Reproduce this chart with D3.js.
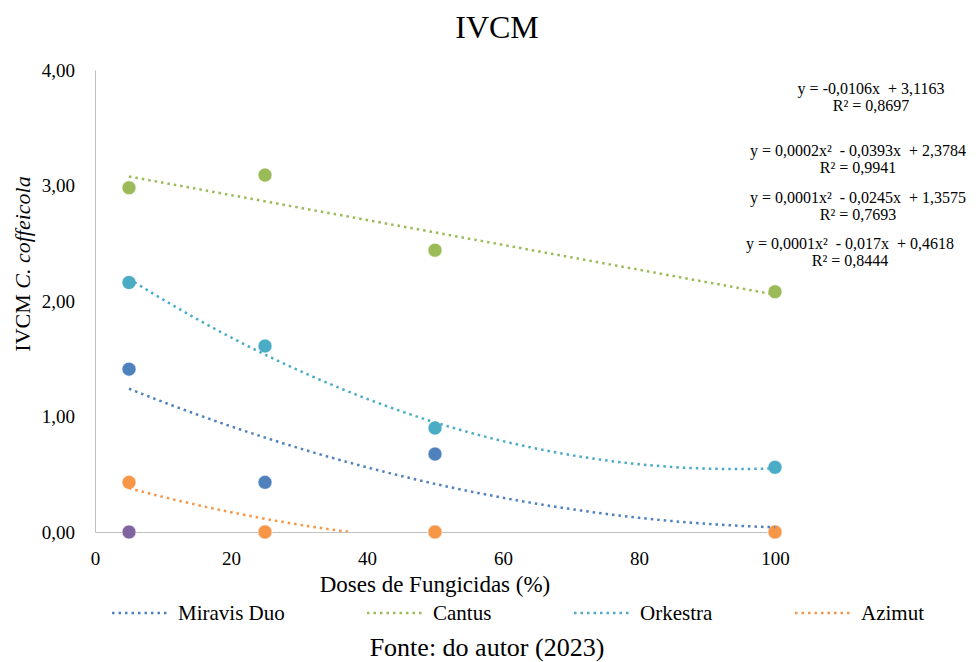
<!DOCTYPE html>
<html>
<head>
<meta charset="utf-8">
<script src="https://cdn.jsdelivr.net/npm/d3@7"></script>
<style>
  body { margin: 0; background: #fff; }
  text { font-family: "Liberation Serif", "Times New Roman", serif; }
</style>
</head>
<body>
<svg id="chart" width="979" height="662"></svg>
<script>
const doses = [5, 25, 50, 100];
const miravis = [1.41, 0.43, 0.675, 0];
const cantus = [2.98, 3.09, 2.44, 2.08];
const orkestra = [2.16, 1.61, 0.90, 0.56];
const azimut = [0.43, 0, 0, 0];
const testemunha = [0, 0, 0, 0];

const xTicks = [0, 20, 40, 60, 80, 100];
const yTicks = [0, 1, 2, 3, 4];

const equations = [
  ["y = -0,0106x  + 3,1163", "R² = 0,8697"],
  ["y = 0,0002x²  - 0,0393x  + 2,3784", "R² = 0,9941"],
  ["y = 0,0001x²  - 0,0245x  + 1,3575", "R² = 0,7693"],
  ["y = 0,0001x²  - 0,017x  + 0,4618", "R² = 0,8444"]
];

const series = [
  {name: "Miravis Duo", values: miravis, color: "#4f81bd", degree: 2},
  {name: "Cantus", values: cantus, color: "#9bbb59", degree: 1},
  {name: "Orkestra", values: orkestra, color: "#4bacc6", degree: 2},
  {name: "Azimut", values: azimut, color: "#f79646", degree: 2}
];

const serif = "Liberation Serif";
const svg = d3.select("#chart");
const margin = {left: 95, top: 70};
const width = 680, height = 462;

const x = d3.scaleLinear([0, 100], [margin.left, margin.left + width]);
const y = d3.scaleLinear([0, 4], [margin.top + height, margin.top]);

const fmt = d => d.toFixed(2).replace(".", ",");

// least squares polynomial fit (Excel trendline)
function fit(xs, ys, degree) {
  const n = degree + 1;
  const A = [];
  for (let i = 0; i < n; i++) {
    A.push([]);
    for (let j = 0; j < n; j++) A[i].push(d3.sum(xs, v => Math.pow(v, i + j)));
    A[i].push(d3.sum(xs, (v, k) => Math.pow(v, i) * ys[k]));
  }
  for (let i = 0; i < n; i++) {
    for (let k = i + 1; k < n; k++) {
      const f = A[k][i] / A[i][i];
      for (let j = i; j <= n; j++) A[k][j] -= f * A[i][j];
    }
  }
  const c = new Array(n).fill(0);
  for (let i = n - 1; i >= 0; i--) {
    let s = A[i][n];
    for (let j = i + 1; j < n; j++) s -= A[i][j] * c[j];
    c[i] = s / A[i][i];
  }
  return v => c.reduce((acc, ci, i) => acc + ci * Math.pow(v, i), 0);
}

svg.append("text")
    .attr("x", 497).attr("y", 38)
    .attr("text-anchor", "middle")
    .attr("font-family", serif)
    .attr("font-size", 32)
    .text("IVCM");

svg.append("defs").append("clipPath").attr("id", "plot")
  .append("rect")
    .attr("x", margin.left).attr("y", margin.top)
    .attr("width", width).attr("height", height);

// axes
svg.append("g")
    .attr("transform", `translate(${margin.left},0)`)
    .call(d3.axisLeft(y).tickValues(yTicks).tickFormat(fmt).tickSize(0).tickPadding(20))
    .call(g => g.attr("font-family", serif))
    .call(g => g.select(".domain").attr("stroke", "#bfbfbf"))
    .call(g => g.selectAll("text").attr("font-size", 19).attr("fill", "#000"));

svg.append("g")
    .attr("transform", `translate(0,${margin.top + height})`)
    .call(d3.axisBottom(x).tickValues(xTicks).tickSize(0).tickPadding(20))
    .call(g => g.attr("font-family", serif))
    .call(g => g.select(".domain").attr("stroke", "#bfbfbf"))
    .call(g => g.selectAll("text").attr("font-size", 19).attr("fill", "#000"));

// markers
const markers = [
  {values: miravis, color: "#4f81bd"},
  {values: cantus, color: "#9bbb59"},
  {values: orkestra, color: "#4bacc6"},
  {values: testemunha, color: "#8064a2"},
  {values: azimut, color: "#f79646"}
];
markers.forEach(m => {
  svg.append("g").selectAll("circle")
    .data(m.values)
    .join("circle")
      .attr("cx", (d, i) => x(doses[i]))
      .attr("cy", d => y(d))
      .attr("r", 7)
      .attr("fill", m.color)
      .attr("stroke", "#fff")
      .attr("stroke-opacity", 0.6)
      .attr("stroke-width", 1);
});

// trendlines
const line = d3.line().x(d => x(d[0])).y(d => y(d[1]));
series.forEach(s => {
  const f = fit(doses, s.values, s.degree);
  const pts = [];
  for (let v = 5; v <= 100.001; v += 0.5) {
    const yv = f(v);
    if (yv < 0) { if (pts.length) pts.push([v, 0]); break; }
    pts.push([v, yv]);
  }
  svg.append("path")
      .attr("clip-path", "url(#plot)")
      .attr("fill", "none")
      .attr("stroke", s.color)
      .attr("stroke-width", 2.5)
      .attr("stroke-dasharray", "2.5 4")
      .attr("d", line(pts));
});

// equations
const eqCenters = [871, 858, 858, 850];
const eqTops = [94, 156, 203, 249];
equations.forEach((eq, i) => {
  const t = svg.append("text")
      .attr("text-anchor", "middle")
      .attr("font-family", serif)
      .attr("font-size", 16)
      .attr("xml:space", "preserve");
  eq.forEach((ln, j) => {
    t.append("tspan")
      .attr("x", eqCenters[i])
      .attr("y", eqTops[i] + j * 17)
      .text(ln);
  });
});

// axis titles
const yLabel = svg.append("text")
    .attr("transform", "translate(30,264) rotate(-90)")
    .attr("text-anchor", "middle")
    .attr("font-family", serif)
    .attr("font-size", 22);
yLabel.append("tspan").text("IVCM ");
yLabel.append("tspan").attr("font-style", "italic").text("C. coffeicola");

svg.append("text")
    .attr("x", 435).attr("y", 592)
    .attr("text-anchor", "middle")
    .attr("font-family", serif)
    .attr("font-size", 23)
    .text("Doses de Fungicidas (%)");

// legend
const legendX = [112, 367, 574, 795];
const legend = svg.append("g");
series.forEach((s, i) => {
  const g = legend.append("g").attr("transform", `translate(${legendX[i]},613)`);
  g.append("line")
      .attr("x1", 0).attr("x2", 56)
      .attr("stroke", s.color)
      .attr("stroke-width", 2.5)
      .attr("stroke-dasharray", "2.5 4");
  g.append("text")
      .attr("x", 66).attr("y", 7)
      .attr("font-family", serif)
      .attr("font-size", 21)
      .text(s.name);
});

svg.append("text")
    .attr("x", 487).attr("y", 656)
    .attr("text-anchor", "middle")
    .attr("font-family", serif)
    .attr("font-size", 26)
    .text("Fonte: do autor (2023)");
</script>
</body>
</html>
